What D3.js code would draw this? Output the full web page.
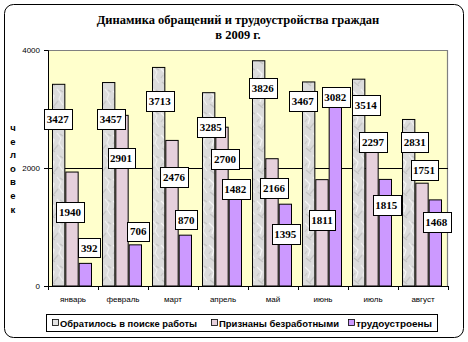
<!DOCTYPE html>
<html><head><meta charset="utf-8">
<script src="https://cdn.jsdelivr.net/npm/d3@7"></script>
<style>body{margin:0;background:#fff}svg{display:block}</style>
</head><body><svg id="c" width="468" height="342"></svg>
<script>
const months = ["январь","февраль","март","апрель","май","июнь","июль","август"];
const seriesNames = ["Обратилось в поиске работы","Признаны безработными","трудоустроены"];
const applied = [3427,3457,3713,3285,3826,3467,3514,2831];
const unemployed = [1940,2901,2476,2700,2166,1811,2297,1751];
const employed = [392,706,870,1482,1395,3082,1815,1468];
const yTicks = [0,2000,4000];
// layout: manual label offsets (px) relative to bar centre / bar top, per series
const labelDx = [[-1,2,1,2,4,-6,7,6],[-2,-1,2,3,2,0,1,2],[4,3,1,0,0,0,1,1]];
const labelDy = [[35,37,34,35,28,20,26,23],[40,43,37,32,30,41,-8,-13],[-15,-13,-15,-10,30,-7,26,23]];

const values = [applied, unemployed, employed];
const colors = ["url(#marble)","#E6D0DC","#CC99FF"];
const svg = d3.select("#c");

// marble texture
const defs = svg.append("defs");
const pat = defs.append("pattern").attr("id","marble").attr("patternUnits","userSpaceOnUse")
  .attr("width",16).attr("height",22);
pat.append("rect").attr("width",16).attr("height",22).attr("fill","#DCDCDC");
[["M1,3 L6,8 L4,14","#F4F4F4"],["M9,1 L13,6 L11,11 L15,17","#EEEEEE"],["M2,16 L7,20","#C4C4C4"],
 ["M10,13 L6,18","#C8C8C8"],["M12,2 L15,4","#C6C6C6"],["M3,9 L1,12","#CACACA"]].forEach(([d,c])=>
  pat.append("path").attr("d",d).attr("stroke",c).attr("stroke-width",1.3).attr("fill","none"));

// outer frame
svg.append("rect").attr("x",4.5).attr("y",4.5).attr("width",459).attr("height",333)
  .attr("rx",9).attr("fill","#fff").attr("stroke","#000").attr("stroke-width",1);

// title
const title = svg.append("text").attr("text-anchor","middle").attr("font-family","Liberation Serif, serif")
  .attr("font-weight","bold").attr("font-size",12.5);
title.append("tspan").attr("x",238).attr("y",24).text("Динамика обращений и трудоустройства граждан");
title.append("tspan").attr("x",238).attr("y",39).text("в 2009 г.");

const L=48,R=448,T=50,B=286;
const x0 = d3.scaleBand().domain(months).range([L,R]).padding(0);
const x1 = d3.scaleBand().domain([0,1,2]).range([4,44]).padding(0);
const y = d3.scaleLinear().domain([0,4000]).range([B,T]);

svg.append("rect").attr("x",L).attr("y",T).attr("width",R-L).attr("height",B-T).attr("fill","#FFFFCC");
svg.append("path").attr("d",`M${L},${T+0.5}H${R-0.5}V${B}`).attr("fill","none").attr("stroke","#808080").attr("stroke-width",1.2);

// gridline
svg.append("g").selectAll("line").data(yTicks.filter(t=>t>0&&t<4000)).join("line")
  .attr("x1",L).attr("x2",R).attr("y1",d=>y(d)+0.5).attr("y2",d=>y(d)+0.5).attr("stroke","#000");

// bars
const g = svg.append("g");
values.forEach((vals,s)=>{
  g.selectAll(null).data(vals).join("rect")
    .attr("x",(d,i)=>x0(months[i])+x1(s)+0.5).attr("y",d=>y(d)+0.5)
    .attr("width",x1.bandwidth()-1).attr("height",d=>B-y(d)-0.5)
    .attr("fill",colors[s]).attr("stroke","#000").attr("stroke-width",1);
});

// y axis
const ya = svg.append("g").attr("transform",`translate(${L},0)`)
  .call(d3.axisLeft(y).tickValues(yTicks).tickSize(4).tickPadding(4).tickFormat(d3.format("d")));
ya.select(".domain").attr("stroke","#000").attr("d",`M-4,${T}.5H0.5V${B}.5H-4`);
ya.selectAll("text").attr("font-family","Liberation Sans, Arial, sans-serif").attr("font-size",8).attr("fill","#000");
ya.selectAll("line").attr("stroke","#000");

// x axis
const xa = svg.append("g").attr("transform",`translate(0,${B})`)
  .call(d3.axisBottom(x0).tickSize(0).tickPadding(10));
xa.select(".domain").attr("stroke","#000").attr("d",`M${L},0.5H${R}`);
xa.selectAll("text").attr("font-family","Liberation Sans, Arial, sans-serif").attr("font-size",8).attr("fill","#000");
xa.append("g").selectAll("line").data(d3.range(months.length+1)).join("line")
  .attr("x1",i=>L+i*x0.step()+0.5).attr("x2",i=>L+i*x0.step()+0.5).attr("y1",0).attr("y2",4).attr("stroke","#000");

// y axis title (stacked letters)
svg.append("g").selectAll("text").data("человек".split("")).join("text")
  .attr("x",13).attr("y",(d,i)=>131+i*13.6).attr("text-anchor","middle")
  .attr("font-family","Liberation Sans, Arial, sans-serif").attr("font-weight","bold").attr("font-size",9.5).text(d=>d);

// data labels
const lg = svg.append("g");
values.forEach((vals,s)=>{
  vals.forEach((v,i)=>{
    const cx = x0(months[i])+x1(s)+x1.bandwidth()/2 + labelDx[s][i];
    const cy = y(v) + labelDy[s][i];
    const grp = lg.append("g");
    const rect = grp.append("rect").attr("fill","#fff").attr("stroke","#000").attr("stroke-width",1);
    const t = grp.append("text").attr("x",cx).attr("y",cy+4).attr("text-anchor","middle")
      .attr("font-family","Liberation Serif, serif").attr("font-weight","bold").attr("font-size",11).text(v);
    const w = t.node().getBBox().width + 5;
    const h = String(v).length>3 ? 20 : 19;
    rect.attr("x",Math.round(cx-w/2)+0.5).attr("y",Math.round(cy-h/2)+0.5).attr("width",Math.round(w)).attr("height",h);
  });
});

// legend
svg.append("rect").attr("x",46.5).attr("y",314.5).attr("width",391).attr("height",17).attr("fill","#fff").attr("stroke","#000");
const legX = [52,211,348];
const legW = [137,120,76];
const sw = ["#E4E4E4","#E6D0DC","#CC99FF"];
seriesNames.forEach((n,s)=>{
  svg.append("rect").attr("x",legX[s]+0.5).attr("y",319.5).attr("width",6).attr("height",6).attr("fill",sw[s]).attr("stroke","#000").attr("stroke-width",0.8);
  svg.append("text").attr("x",legX[s]+8).attr("y",327).attr("font-family","Liberation Sans, Arial, sans-serif")
    .attr("font-weight","bold").attr("font-size",9.5).attr("textLength",legW[s]).attr("lengthAdjust","spacingAndGlyphs").text(n);
});
</script></body></html>
